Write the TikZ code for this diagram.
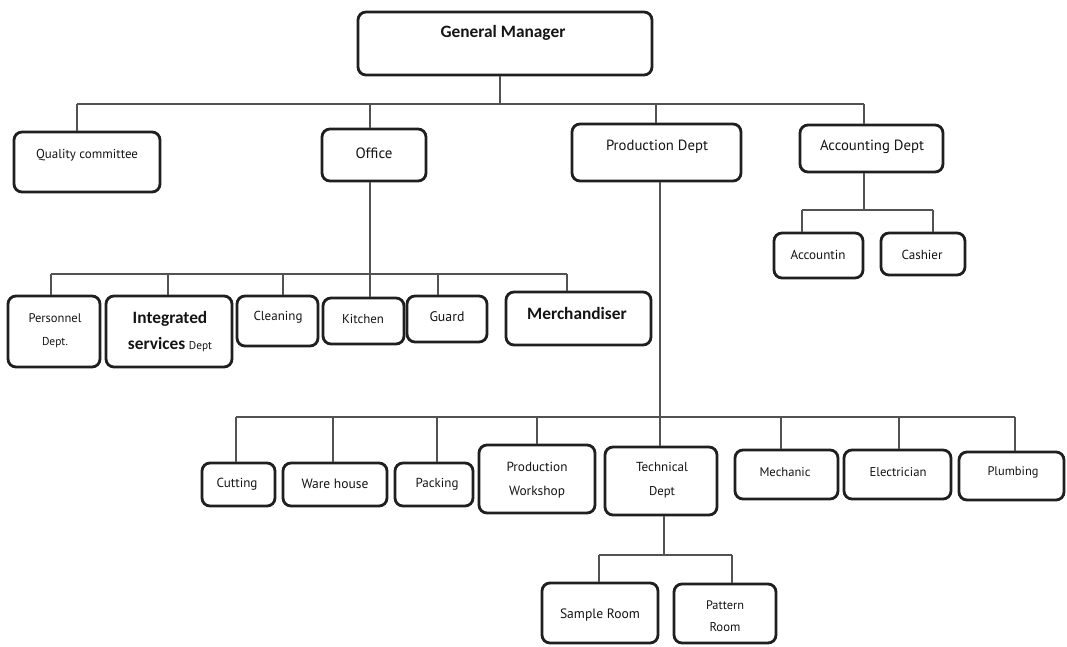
\documentclass[tikz,border=0pt]{standalone}
\usepackage{fontspec}
\setmainfont{PT Sans}
\newfontfamily\calfont{Carlito}
\usetikzlibrary{fit}
\newcommand\fw[2]{\resizebox{\dimexpr 0.75pt*#1\relax}{!}{#2}}
\newcommand\bt[1]{{\calfont\bfseries\fontsize{13}{15}\selectfont #1}}
\begin{document}
\begin{tikzpicture}[x=0.75pt,y=-0.75pt,
  box/.style={draw=black!88, line width=2.1pt, rounded corners=6pt, inner sep=0pt},
  conn/.style={draw=black!68, line width=0.9pt},
  txt/.style={inner sep=0pt, text=black!92, align=center}]
\useasboundingbox (0,0) rectangle (1067,646);

% ---------- boxes ----------
\node[box, fit={(358,12) (652,75)}] (gm) {};
\node[box, fit={(14,132) (160,192)}] (qc) {};
\node[box, fit={(322,129) (426,181)}] (office) {};
\node[box, fit={(572,124) (741,181)}] (prod) {};
\node[box, fit={(800,125) (943,172)}] (acc) {};
\node[box, fit={(774,233) (863,278)}] (accn) {};
\node[box, fit={(881,233) (965,275)}] (cash) {};
\node[box, fit={(8,296) (100,367)}] (pers) {};
\node[box, fit={(106,296) (232,367)}] (integ) {};
\node[box, fit={(237,296) (318,346)}] (clean) {};
\node[box, fit={(323,298) (404,344)}] (kitchen) {};
\node[box, fit={(407,296) (487,342)}] (guard) {};
\node[box, fit={(506,292) (651,345)}] (merch) {};
\node[box, fit={(202,463) (275,506)}] (cut) {};
\node[box, fit={(283,463) (387,506)}] (ware) {};
\node[box, fit={(395,463) (473,506)}] (pack) {};
\node[box, fit={(479,445) (595,513)}] (pw) {};
\node[box, fit={(605,447) (717,515)}] (tech) {};
\node[box, fit={(735,450) (838,499)}] (mech) {};
\node[box, fit={(844,450) (951,499)}] (elec) {};
\node[box, fit={(959,452) (1064,500)}] (plumb) {};
\node[box, fit={(542,583) (658,643)}] (sample) {};
\node[box, fit={(674,584) (776,643)}] (pattern) {};

% ---------- texts ----------
\node[txt] (gmT) at (503,33) {\bt{General Manager}};
\node[txt] (qcT) at (87,155) {\fw{102}{Quality committee}};
\node[txt] (officeT) at (374,153) {\fw{37}{Office}};
\node[txt] (prodT) at (657,147) {\fw{102}{Production Dept}};
\node[txt] (accT) at (872,147) {\fw{104}{Accounting Dept}};
\node[txt] (accnT) at (818,255) {\fw{55}{Accountin}};
\node[txt] (cashT) at (922,255) {\fw{41}{Cashier}};
\node[txt] (persT1) at (55,318) {\fw{53}{Personnel}};
\node[txt] (persT2) at (55,343) {\fw{26}{Dept.}};
\node[txt] (integT1) at (170,319) {\bt{Integrated}};
\node[txt] (integT2) at (170,345) {\bt{services} {\fontsize{8.5}{9}\selectfont Dept}};
\node[txt] (cleanT) at (278,317) {\fw{49}{Cleaning}};
\node[txt] (kitchenT) at (363,319) {\fw{42}{Kitchen}};
\node[txt] (guardT) at (447,317) {\fw{35}{Guard}};
\node[txt] (merchT) at (577,313) {\bt{Merchandiser}};
\node[txt] (cutT) at (237,484) {\fw{41}{Cutting}};
\node[txt] (wareT) at (335,484) {\fw{67}{Ware house}};
\node[txt] (packT) at (437,484) {\fw{43}{Packing}};
\node[txt] (pwT1) at (537,467) {\fw{61}{Production}};
\node[txt] (pwT2) at (537,492) {\fw{56}{Workshop}};
\node[txt] (techT1) at (662,467) {\fw{52}{Technical}};
\node[txt] (techT2) at (662,492) {\fw{26}{Dept}};
\node[txt] (mechT) at (785,472) {\fw{51}{Mechanic}};
\node[txt] (elecT) at (898,472) {\fw{57}{Electrician}};
\node[txt] (plumbT) at (1013,472) {\fw{51}{Plumbing}};
\node[txt] (sampleT) at (600,615) {\fw{80}{Sample Room}};
\node[txt] (patT1) at (725,605) {\fw{38}{Pattern}};
\node[txt] (patT2) at (725,627) {\fw{31}{Room}};

% ---------- junctions ----------
\coordinate (gJ) at (500,104);
\coordinate (qcJ) at (77,104);
\coordinate (officeJ) at (370,104);
\coordinate (prodJ) at (656,104);
\coordinate (accJ) at (864,104);

\coordinate (aJ) at (864,210);
\coordinate (accnJ) at (802,210);
\coordinate (cashJ) at (933,210);

\coordinate (oJ) at (370,274);
\coordinate (persJ) at (51,274);
\coordinate (integJ) at (168,274);
\coordinate (cleanJ) at (283,274);
\coordinate (guardJ) at (438,274);
\coordinate (merchJ) at (567,274);

\coordinate (pJ) at (660,417);
\coordinate (cutJ) at (236,417);
\coordinate (wareJ) at (333,417);
\coordinate (packJ) at (437,417);
\coordinate (pwJ) at (537,417);
\coordinate (mechJ) at (781,417);
\coordinate (elecJ) at (899,417);
\coordinate (plumbJ) at (1015,417);

\coordinate (tJ) at (664,555);
\coordinate (sampleJ) at (599,555);
\coordinate (patJ) at (732,555);

% ---------- connectors ----------
\draw[conn] (gJ |- gm.south) -- (gJ);
\draw[conn] (qcJ) -- (accJ);
\draw[conn] (qcJ) -- (qcJ |- qc.north);
\draw[conn] (officeJ) -- (officeJ |- office.north);
\draw[conn] (prodJ) -- (prodJ |- prod.north);
\draw[conn] (accJ) -- (accJ |- acc.north);

\draw[conn] (aJ |- acc.south) -- (aJ);
\draw[conn] (accnJ) -- (cashJ);
\draw[conn] (accnJ) -- (accnJ |- accn.north);
\draw[conn] (cashJ) -- (cashJ |- cash.north);

\draw[conn] (oJ |- office.south) -- (oJ |- kitchen.north);
\draw[conn] (persJ) -- (merchJ);
\draw[conn] (persJ) -- (persJ |- pers.north);
\draw[conn] (integJ) -- (integJ |- integ.north);
\draw[conn] (cleanJ) -- (cleanJ |- clean.north);
\draw[conn] (guardJ) -- (guardJ |- guard.north);
\draw[conn] (merchJ) -- (merchJ |- merch.north);

\draw[conn] (pJ |- prod.south) -- (pJ |- tech.north);
\draw[conn] (cutJ) -- (plumbJ);
\draw[conn] (cutJ) -- (cutJ |- cut.north);
\draw[conn] (wareJ) -- (wareJ |- ware.north);
\draw[conn] (packJ) -- (packJ |- pack.north);
\draw[conn] (pwJ) -- (pwJ |- pw.north);
\draw[conn] (mechJ) -- (mechJ |- mech.north);
\draw[conn] (elecJ) -- (elecJ |- elec.north);
\draw[conn] (plumbJ) -- (plumbJ |- plumb.north);

\draw[conn] (tJ |- tech.south) -- (tJ);
\draw[conn] (sampleJ) -- (patJ);
\draw[conn] (sampleJ) -- (sampleJ |- sample.north);
\draw[conn] (patJ) -- (patJ |- pattern.north);
\end{tikzpicture}
\end{document}
